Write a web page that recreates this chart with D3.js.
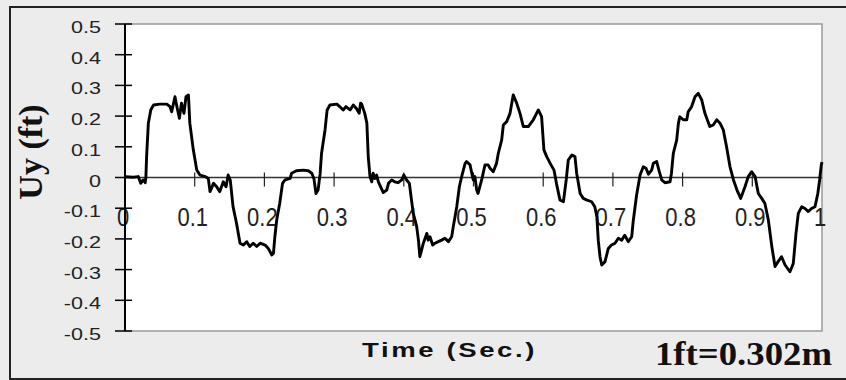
<!DOCTYPE html>
<html>
  <head>
    <meta charset="utf-8">
    <title>Uy time history</title>
    <style media="screen">
    body{margin: 0; background: #fff}
    </style>
  </head>
  <body>
    <script src="https://d3js.org/d3.v7.min.js"></script>
    <script type="text/javascript">
      var w = 846, h = 380;

      // time (sec) and displacement Uy (ft)
      var time = [
        0, 0.012, 0.019, 0.0225, 0.026, 0.029, 0.030, 0.031, 0.0335, 0.037, 0.041, 0.050, 0.060, 0.0646, 0.067, 0.0717, 0.075, 0.078, 0.081, 0.0846, 0.0875, 0.091, 0.093, 0.098, 0.103, 0.1076, 0.115, 0.1195, 0.122, 0.127, 0.1315, 0.136, 0.141, 0.145, 0.148, 0.151, 0.155, 0.160, 0.165,
        0.170, 0.1746, 0.179, 0.184, 0.189, 0.194, 0.201, 0.2056, 0.2105, 0.213, 0.215, 0.2177, 0.222, 0.226, 0.2296, 0.237, 0.239, 0.246, 0.256, 0.263, 0.268, 0.271, 0.274, 0.277, 0.280, 0.282, 0.287, 0.290, 0.294, 0.304, 0.308, 0.313, 0.317, 0.323, 0.3275, 0.332, 0.336, 0.338,
        0.3396, 0.344, 0.347, 0.349, 0.3515, 0.354, 0.356, 0.3587, 0.361, 0.3635, 0.3706, 0.3755, 0.378, 0.3826, 0.387, 0.392, 0.397, 0.400, 0.404, 0.408, 0.411, 0.4136, 0.4185, 0.421, 0.423, 0.4256, 0.428, 0.433, 0.435, 0.4376, 0.4414, 0.4448, 0.4495, 0.4543, 0.459, 0.464, 0.4687, 0.471, 0.476, 0.4797, 0.483, 0.488, 0.490, 0.495, 0.4997, 0.502, 0.5046, 0.5065,
        0.5117, 0.5165, 0.521, 0.5237, 0.5284, 0.533, 0.5356, 0.5404, 0.5428, 0.5476, 0.5524, 0.557, 0.562, 0.5667, 0.5715, 0.5786, 0.5858, 0.593, 0.5977, 0.601, 0.605, 0.610, 0.6155, 0.619, 0.624, 0.629, 0.633, 0.636, 0.641, 0.6456, 0.648, 0.653, 0.6575, 0.662, 0.6695, 0.674, 0.677, 0.679, 0.6815, 0.684,
        0.6887, 0.6934, 0.698, 0.703, 0.7078, 0.7126, 0.717, 0.722, 0.727, 0.729, 0.734, 0.739, 0.7436, 0.7475, 0.751, 0.7556, 0.758, 0.7628, 0.7666, 0.770, 0.7747, 0.782, 0.784, 0.7867, 0.7915, 0.794, 0.796, 0.801, 0.806, 0.808, 0.813, 0.8178, 0.8225, 0.8274, 0.832, 0.839, 0.844, 0.849, 0.8537,
        0.8584, 0.863, 0.868, 0.873, 0.878, 0.8834, 0.8895, 0.8943, 0.899, 0.904, 0.9086, 0.9135, 0.918, 0.923, 0.928, 0.9326, 0.937, 0.942, 0.947, 0.954, 0.9588, 0.9627, 0.966, 0.971, 0.9756, 0.9804, 0.985, 0.990, 0.994, 0.9966, 0.999, 1
      ];
      var uy = [
        0.003, 0.001, 0.003, -0.019, -0.008, -0.017, 0.003, 0.068, 0.177, 0.22, 0.236, 0.239, 0.239, 0.231, 0.214, 0.263, 0.225, 0.193, 0.242, 0.209, 0.263, 0.269, 0.177, 0.09, 0.024, 0.008, 0.003, -0.003, -0.046, -0.019, -0.030, -0.046, -0.014, -0.030, 0.008, -0.008, -0.095, -0.149, -0.214,
        -0.220, -0.209, -0.225, -0.214, -0.225, -0.214, -0.220, -0.231, -0.252, -0.247, -0.193, -0.138, -0.084, -0.019, -0.008, -0.003, 0.014, 0.022, 0.024, 0.022, 0.014, -0.003, -0.052, -0.041, 0.014, 0.079, 0.155, 0.220, 0.236, 0.239, 0.231, 0.220, 0.231, 0.220, 0.236, 0.225, 0.209, 0.242,
        0.239, 0.209, 0.177, 0.068, 0.003, -0.014, 0.014, -0.003, 0.008, -0.014, -0.049, -0.041, -0.019, -0.008, -0.014, -0.017, -0.008, 0.008, -0.008, -0.019, -0.073, -0.117, -0.160, -0.204, -0.258, -0.236, -0.214, -0.182, -0.204, -0.193, -0.220, -0.214, -0.209, -0.204, -0.198, -0.209, -0.193, -0.160, -0.095, -0.030, 0.003, 0.046, 0.052, 0.041, -0.008, 0.003, -0.041, -0.052,
        -0.008, 0.041, 0.041, 0.030, 0.019, 0.046, 0.079, 0.122, 0.171, 0.182, 0.209, 0.269, 0.242, 0.209, 0.166, 0.166, 0.188, 0.220, 0.198, 0.090, 0.068, 0.046, 0.024, -0.019, -0.073, -0.079, -0.008, 0.057, 0.073, 0.068, 0.014, -0.052, -0.068, -0.073, -0.079, -0.095, -0.128, -0.204, -0.258, -0.285,
        -0.274, -0.231, -0.220, -0.214, -0.198, -0.204, -0.188, -0.209, -0.193, -0.145, -0.057, 0.008, 0.035, 0.030, 0.011, 0.024, 0.046, 0.052, 0.019, -0.008, -0.017, -0.014, 0.014, 0.079, 0.122, 0.177, 0.198, 0.188, 0.188, 0.214, 0.231, 0.263, 0.274, 0.253, 0.209, 0.166, 0.171, 0.188, 0.177,
        0.155, 0.101, 0.035, -0.008, -0.041, -0.068, -0.030, 0.003, 0.019, 0.003, -0.052, -0.068, -0.084, -0.138, -0.225, -0.290, -0.274, -0.258, -0.285, -0.307, -0.280, -0.182, -0.117, -0.095, -0.101, -0.111, -0.101, -0.095, -0.052, -0.008, 0.041, 0.05
      ];

      var xTicks = [0, 0.1, 0.2, 0.3, 0.4, 0.5, 0.6, 0.7, 0.8, 0.9, 1];
      var xTickLabels = ['0', '0.1', '0.2', '0.3', '0.4', '0.5', '0.6', '0.7', '0.8', '0.9', '1'];
      var yTicks = [0.5, 0.4, 0.3, 0.2, 0.1, 0, -0.1, -0.2, -0.3, -0.4, -0.5];
      var yTickLabels = ['0.5', '0.4', '0.3', '0.2', '0.1', '0', '-0.1', '-0.2', '-0.3', '-0.4', '-0.5'];

      var points = time.map(function(t, i){ return {t: t, v: uy[i]} });

      var x = d3.scaleLinear().domain([0, 1]).range([125, 822]);
      var y = d3.scaleLinear().domain([-0.5, 0.5]).range([331, 24]);

      var svg = d3.select('body').append('svg')
        .attr('width', w)
        .attr('height', h)

      svg.append('rect')
        .attr('width', w).attr('height', h)
        .attr('fill', '#ececec')

      // outer frame (right edge sits off the picture)
      svg.append('path')
        .attr('d', 'M' + w + ',7H10V379H' + w)
        .attr('fill', 'none')
        .attr('stroke', '#222')
        .attr('stroke-width', 2)

      // plot area
      svg.append('rect')
        .attr('x', x(0)).attr('y', y(0.5))
        .attr('width', x(1) - x(0)).attr('height', y(-0.5) - y(0.5))
        .attr('fill', '#fff')
        .attr('stroke', '#999')
        .attr('stroke-width', 1.5)

      // zero line with x ticks on it
      svg.append('line')
        .attr('x1', x(0)).attr('x2', x(1))
        .attr('y1', y(0)).attr('y2', y(0))
        .attr('stroke', '#333')
        .attr('stroke-width', 1.5)

      svg.selectAll('.xtick')
        .data(xTicks.slice(1, -1))
        .enter().append('line')
          .attr('x1', function(d){ return x(d) }).attr('x2', function(d){ return x(d) })
          .attr('y1', y(0) - 5).attr('y2', y(0) + 9)
          .attr('stroke', '#222')
          .attr('stroke-width', 1.2)

      svg.selectAll('.xlab')
        .data(xTicks)
        .enter().append('text')
          .attr('transform', function(d){ return 'translate(' + (x(d) - 2) + ',' + (y(0) + 48) + ') scale(0.88,1)' })
          .attr('text-anchor', 'middle')
          .attr('font-family', 'Liberation Sans, Arial, sans-serif')
          .attr('font-size', 25)
          .attr('fill', '#222')
          .text(function(d, i){ return xTickLabels[i] })

      // y axis
      svg.append('line')
        .attr('x1', x(0)).attr('x2', x(0))
        .attr('y1', y(0.5)).attr('y2', y(-0.5))
        .attr('stroke', '#000')
        .attr('stroke-width', 2)

      svg.selectAll('.ytick')
        .data(yTicks)
        .enter().append('line')
          .attr('x1', x(0) - 10).attr('x2', x(0) + 7)
          .attr('y1', function(d){ return y(d) }).attr('y2', function(d){ return y(d) })
          .attr('stroke', '#000')
          .attr('stroke-width', 1.5)

      svg.selectAll('.ylab')
        .data(yTicks)
        .enter().append('text')
          .attr('transform', function(d){ return 'translate(101,' + (y(d) + 9) + ') scale(1.35,1.05)' })
          .attr('text-anchor', 'end')
          .attr('font-family', 'Liberation Sans, Arial, sans-serif')
          .attr('font-size', 16)
          .attr('fill', '#222')
          .text(function(d, i){ return yTickLabels[i] })

      var line = d3.line()
        .x(function(d){ return x(d.t) })
        .y(function(d){ return y(d.v) })

      svg.append('path')
        .datum(points)
        .attr('d', line)
        .attr('fill', 'none')
        .attr('stroke', '#000')
        .attr('stroke-width', 2.9)
        .attr('stroke-linejoin', 'round')

      svg.append('text')
        .attr('transform', 'translate(42,152) rotate(-90)')
        .attr('text-anchor', 'middle')
        .attr('font-family', 'Liberation Serif, Times New Roman, serif')
        .attr('font-weight', 'bold')
        .attr('font-size', 34)
        .attr('fill', '#111')
        .text('Uy (ft)')

      svg.append('text')
        .attr('x', 362).attr('y', 357)
        .attr('textLength', 175)
        .attr('lengthAdjust', 'spacingAndGlyphs')
        .attr('letter-spacing', 2)
        .attr('font-family', 'Liberation Sans, Arial, sans-serif')
        .attr('font-weight', 'bold')
        .attr('font-size', 21)
        .attr('fill', '#111')
        .text('Time (Sec.)')

      svg.append('text')
        .attr('x', 655).attr('y', 365)
        .attr('textLength', 177)
        .attr('lengthAdjust', 'spacingAndGlyphs')
        .attr('font-family', 'Liberation Serif, Times New Roman, serif')
        .attr('font-weight', 'bold')
        .attr('font-size', 33)
        .attr('fill', '#111')
        .text('1ft=0.302m')

    </script>

  </body>
</html>
